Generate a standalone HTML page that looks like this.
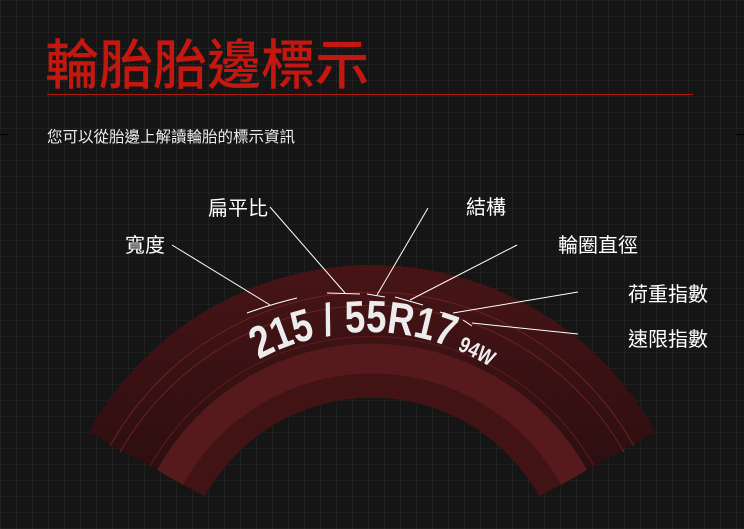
<!DOCTYPE html>
<html><head><meta charset="utf-8"><style>
html,body{margin:0;padding:0;}
body{width:744px;height:529px;overflow:hidden;background:#151515;
background-image:linear-gradient(rgba(255,255,255,0.045) 1px,transparent 1px),linear-gradient(90deg,rgba(255,255,255,0.045) 1px,transparent 1px);
background-size:16px 16px;font-family:"Liberation Sans","Noto Sans CJK TC",sans-serif;position:relative;}
.t{position:absolute;color:#fff;white-space:nowrap;}
</style></head><body>
<div class="t" style="left:45px;top:21px;font-size:54px;color:#c4170f;font-weight:500;">輪胎胎邊標示</div>
<div style="position:absolute;left:47px;top:94px;width:646px;height:1px;background:#b3180f;"></div>
<div class="t" style="left:47px;top:125px;font-size:15.5px;color:#eee;">您可以從胎邊上解讀輪胎的標示資訊</div>
<div style="position:absolute;left:0;top:134px;width:8px;height:1px;background:#000;"></div>
<div style="position:absolute;right:0;top:134px;width:8px;height:1px;background:#000;"></div>
<svg width="744" height="529" style="position:absolute;left:0;top:0">
<defs>
<linearGradient id="g" x1="0" y1="265" x2="0" y2="470" gradientUnits="userSpaceOnUse">
<stop offset="0" stop-color="#4a1416"/><stop offset="1" stop-color="#2e0e10"/></linearGradient>
<path id="tp" d="M 138 562 A 230 230 0 0 1 598 562"/>
</defs>
<path d="M 88.6 432 A 324 324 0 0 1 655.4 432 L 587 470 A 246 246 0 0 0 157 470 Z" fill="url(#g)" opacity="0.95"/>
<path d="M 157 470 A 246 246 0 0 1 587 470 L 561 485 A 216 216 0 0 0 183 485 Z" fill="#561a1c"/>
<path d="M 183 485 A 216 216 0 0 1 561 485 L 539 496 A 191 191 0 0 0 205 496 Z" fill="#421315"/>
<path d="M 110 446 A 300 300 0 0 1 634 446" fill="none" stroke="#6a2224" stroke-width="1"/>
<path d="M 120 452 A 290 290 0 0 1 624 452" fill="none" stroke="#6a2224" stroke-width="1"/>
<path d="M 150 466 A 255 255 0 0 1 594 466" fill="none" stroke="#5a1c1e" stroke-width="1"/>
<g stroke="#fff" stroke-width="1" fill="none">
<line x1="172" y1="245" x2="270" y2="305"/><path d="M247 313 Q272 304 297 298"/>
<line x1="270" y1="207" x2="345" y2="293"/><path d="M327 293 L360 294"/>
<line x1="428" y1="208" x2="377" y2="295"/><path d="M367 294 L385 297"/>
<line x1="517" y1="245" x2="410" y2="300"/><path d="M395 297 L423 305"/>
<line x1="578" y1="292" x2="453" y2="313"/><path d="M440 312 L458 318"/>
<line x1="578" y1="334" x2="472" y2="323"/><path d="M463 320 L472 326"/>
</g>
<text font-family="'Liberation Sans Narrow','Liberation Sans',sans-serif" font-weight="bold" fill="#ececec">
<textPath href="#tp" startOffset="51%" text-anchor="middle" font-size="45" textLength="242" lengthAdjust="spacingAndGlyphs">215 / 55R17<tspan font-size="22" dx="8">94W</tspan></textPath></text>
</svg>
<div class="t" style="left:125px;top:229px;font-size:20px;">寬度</div>
<div class="t" style="left:208px;top:192px;font-size:20px;">扁平比</div>
<div class="t" style="left:466px;top:191px;font-size:20px;">結構</div>
<div class="t" style="left:558px;top:229px;font-size:20px;">輪圈直徑</div>
<div class="t" style="left:628px;top:278px;font-size:20px;">荷重指數</div>
<div class="t" style="left:628px;top:323px;font-size:20px;">速限指數</div>
</body></html>
